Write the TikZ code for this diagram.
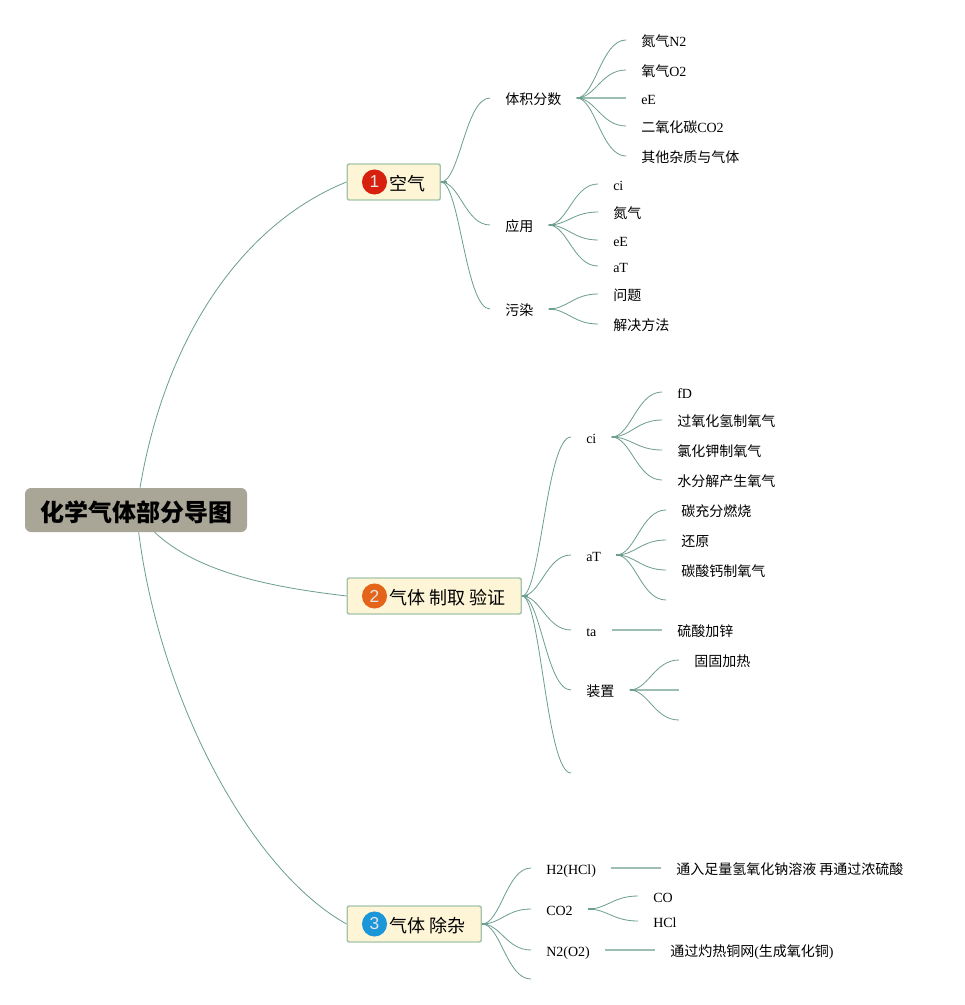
\documentclass[tikz,border=0pt]{standalone}
\usepackage{fontspec}
\usetikzlibrary{calc}
\setmainfont{Liberation Serif}
\setsansfont{Liberation Sans}
\newfontfamily\cjk{Noto Sans CJK SC}
\newcommand{\zh}[1]{{\cjk #1}}
\definecolor{linec}{HTML}{6B9E90}
\definecolor{stubc}{HTML}{6FA08F}
\definecolor{straightc}{HTML}{9DBFB3}
\definecolor{rootc}{HTML}{A9A697}
\definecolor{topicf}{HTML}{FDF5D6}
\definecolor{topicd}{HTML}{A3C4A8}
\definecolor{bone}{HTML}{D8200E}
\definecolor{btwo}{HTML}{E4651A}
\definecolor{bthree}{HTML}{1B96D8}
\tikzset{
  sc/.style={to path={.. controls ($(\tikztostart)!.38!(\tikztotarget |- \tikztostart)$) and ($(\tikztotarget)!.5!(\tikztostart |- \tikztotarget)$) .. (\tikztotarget)}},
  branch/.style={draw=linec,line width=.6pt,sc},
  stub/.style={draw=stubc,line width=1.4pt},
  straight/.style={draw=straightc,line width=1.1pt},
  lab/.style={anchor=west,inner xsep=11.25pt,inner ysep=0pt,text height=9.5pt,text depth=0pt,font=\fontsize{10.5}{12}\selectfont},
  rootbox/.style={draw=none,fill=rootc,rounded corners=4.5pt,minimum width=166.5pt,minimum height=33pt,inner sep=0pt},
  roottext/.style={inner sep=0pt,font=\fontsize{18}{20}\selectfont\bfseries},
  topicbox/.style={draw=topicd,fill=topicf,line width=1.1pt,rounded corners=1.5pt,minimum height=27pt,inner sep=0pt,anchor=west},
  topictext/.style={anchor=west,inner sep=0pt,font=\fontsize{13.5}{15}\selectfont},
  badge/.style={circle,minimum size=18.8pt,inner sep=0pt,text=white!90!black,font=\sffamily\fontsize{13}{14}\selectfont}
}
\newcommand{\bc}[2]{\draw[branch] (#1.east) to (#2.west);}
\newcommand{\st}[1]{\draw[stub] (#1.east) -- ++(6,0);}
\begin{document}
\begin{tikzpicture}[x=.75pt,y=-.75pt]
\useasboundingbox (0,0) rectangle (964,1005);
\fill[white] (0,0) rectangle (964,1005);

\node[rootbox] (root) at (136,510) {};
\node[roottext] (roott) at (136,512) {\cjk 化学气体部分导图};

\node[topicbox,minimum width=69.75pt] (t1) at (346.5,182) {};
\node[topicbox,minimum width=130.5pt] (t2) at (346.5,596) {};
\node[topicbox,minimum width=100.5pt] (t3) at (346.5,924) {};
\node[badge,fill=bone] (b1) at (374.5,182) {1};
\node[badge,fill=btwo] (b2) at (374.5,596) {2};
\node[badge,fill=bthree] (b3) at (374.5,924) {3};
\node[topictext] (tt1) at (389,184) {\zh{空气}};
\node[topictext] (tt2) at (389,598) {\zh{气体 制取 验证}};
\node[topictext] (tt3) at (389,926) {\zh{气体 除杂}};

% level 2, topic 1
\node[lab] (a) at (490,98) {\zh{体积分数}};
\node[lab] (b) at (490,225) {\zh{应用}};
\node[lab] (c) at (490,309) {\zh{污染}};
\node[lab] (a1) at (626,40) {\zh{氮气}N2};
\node[lab] (a2) at (626,70) {\zh{氧气}O2};
\node[lab] (a3) at (626,98) {eE};
\node[lab] (a4) at (626,126) {\zh{二氧化碳}CO2};
\node[lab] (a5) at (626,156) {\zh{其他杂质与气体}};
\node[lab] (b1l) at (598,184) {ci};
\node[lab] (b2l) at (598,212) {\zh{氮气}};
\node[lab] (b3l) at (598,240) {eE};
\node[lab] (b4l) at (598,266) {aT};
\node[lab] (c1) at (598,294) {\zh{问题}};
\node[lab] (c2) at (598,324) {\zh{解决方法}};

% level 2, topic 2
\node[lab] (d) at (571,437) {ci};
\node[lab] (e) at (571,555) {aT};
\node[lab] (f) at (571,630) {ta};
\node[lab] (g) at (571,690) {\zh{装置}};
\coordinate (h) at (571,773);
\node[lab] (d1) at (662,392) {fD};
\node[lab] (d2) at (662,420) {\zh{过氧化氢制氧气}};
\node[lab] (d3) at (662,450) {\zh{氯化钾制氧气}};
\node[lab] (d4) at (662,480) {\zh{水分解产生氧气}};
\node[lab] (e1) at (666,510) {\zh{碳充分燃烧}};
\node[lab] (e2) at (666,540) {\zh{还原}};
\node[lab] (e3) at (666,570) {\zh{碳酸钙制氧气}};
\coordinate (e4) at (666,600);
\node[lab] (f1) at (662,630) {\zh{硫酸加锌}};
\node[lab] (g1) at (679,660) {\zh{固固加热}};
\coordinate (g2) at (679,690);
\coordinate (g3) at (679,720);

% level 2, topic 3
\node[lab] (i) at (531,868) {H2(HCl)};
\node[lab] (j) at (531,909) {CO2};
\node[lab] (k) at (531,950) {N2(O2)};
\coordinate (l) at (531,979);
\node[lab] (i1) at (661,868) {\zh{通入足量氢氧化钠溶液 再通过浓硫酸}};
\node[lab] (j1) at (638,896) {CO};
\node[lab] (j2) at (638,921) {HCl};
\node[lab] (k1) at (655,950) {\zh{通过灼热铜网}(\zh{生成氧化铜})};

% root connectors
\draw[draw=linec,line width=.6pt] ([xshift=3pt]root.north) .. controls (165,340) and (240,225) .. (t1.west);
\draw[draw=linec,line width=.6pt] ([xshift=14pt]root.south) .. controls (200,575) and (280,588) .. (t2.west);
\draw[draw=linec,line width=.6pt] ([xshift=2pt]root.south) .. controls (160,700) and (250,870) .. (t3.west);

% topic connectors
\bc{t1}{a} \bc{t1}{b} \bc{t1}{c} \st{t1}
\draw[branch] (t2.east) to (d.west);
\bc{t2}{e} \bc{t2}{f} \bc{t2}{g}
\draw[branch] (t2.east) to (h);
\st{t2}
\bc{t3}{i} \bc{t3}{j} \bc{t3}{k}
\draw[branch] (t3.east) to (l);
\st{t3}

% leaf connectors
\bc{a}{a1} \bc{a}{a2} \bc{a}{a4} \bc{a}{a5} \draw[straight] (a.east) -- (a3.west); \st{a}
\bc{b}{b1l} \bc{b}{b2l} \bc{b}{b3l} \bc{b}{b4l} \st{b}
\bc{c}{c1} \bc{c}{c2} \st{c}
\bc{d}{d1} \bc{d}{d2} \bc{d}{d3} \bc{d}{d4} \st{d}
\bc{e}{e1} \bc{e}{e2} \bc{e}{e3}
\draw[branch] (e.east) to (e4);
\st{e}
\draw[straight] (f.east) -- (f1.west);
\bc{g}{g1}
\draw[straight] (g.east) -- (g2);
\draw[branch] (g.east) to (g3);
\st{g}
\draw[straight] (i.east) -- (i1.west);
\bc{j}{j1} \bc{j}{j2} \st{j}
\draw[straight] (k.east) -- (k1.west);
\end{tikzpicture}
\end{document}
